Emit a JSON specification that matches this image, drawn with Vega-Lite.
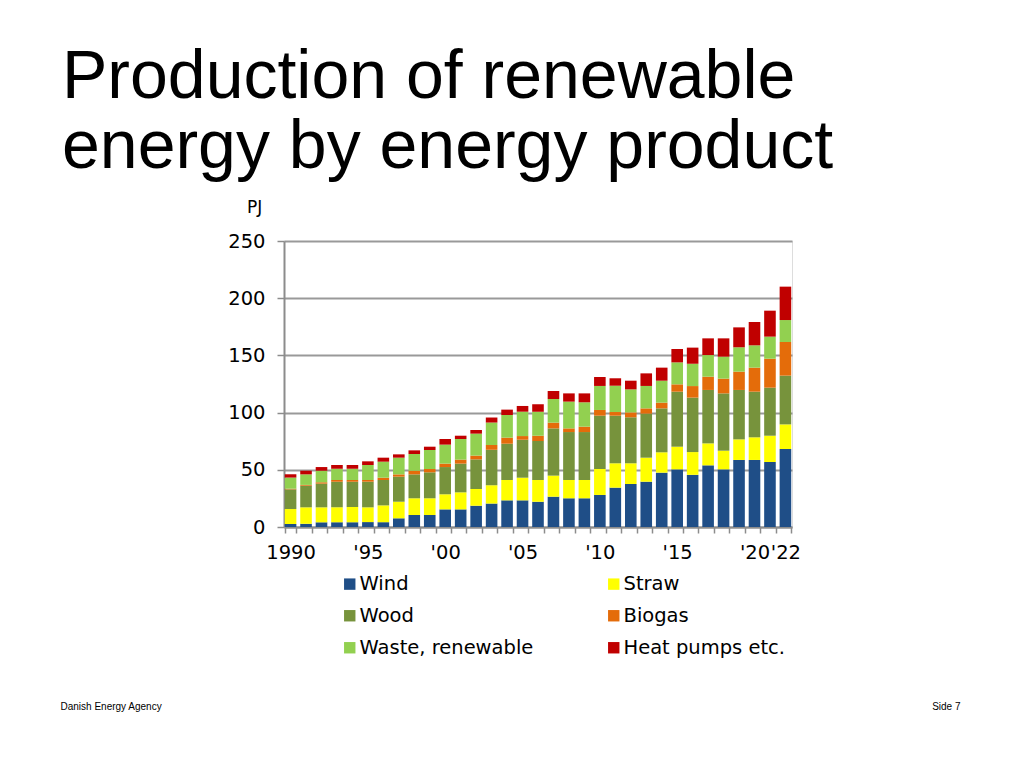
{
  "$schema": "https://vega.github.io/schema/vega-lite/v6.json",
  "width": 508,
  "height": 286,
  "autosize": "none",
  "padding": {"left": 284, "top": 241, "right": 232, "bottom": 241},
  "background": "white",
  "title": {
    "text": ["Production of renewable", "energy by energy product"],
    "anchor": "start",
    "frame": "group",
    "dx": -222,
    "offset": 16,
    "fontSize": 68,
    "font": "Liberation Sans",
    "fontWeight": "normal",
    "color": "#000000",
    "lineHeight": 70
  },
  "data": {
    "values": [
      {"year": 1990, "1_wind": 2.6, "2_straw": 13.1, "3_wood": 17.2, "4_biogas": 0.6, "5_waste": 9.7, "6_heat": 2.9},
      {"year": 1991, "1_wind": 2.8, "2_straw": 14.4, "3_wood": 18.9, "4_biogas": 0.7, "5_waste": 9.2, "6_heat": 3.2},
      {"year": 1992, "1_wind": 4.1, "2_straw": 13.1, "3_wood": 20.7, "4_biogas": 1.2, "5_waste": 10.1, "6_heat": 3.2},
      {"year": 1993, "1_wind": 4.1, "2_straw": 13.1, "3_wood": 22.4, "4_biogas": 1.5, "5_waste": 9.9, "6_heat": 3.2},
      {"year": 1994, "1_wind": 4.1, "2_straw": 13.3, "3_wood": 22.2, "4_biogas": 1.5, "5_waste": 9.9, "6_heat": 3.2},
      {"year": 1995, "1_wind": 4.3, "2_straw": 12.9, "3_wood": 22.4, "4_biogas": 1.5, "5_waste": 13.1, "6_heat": 3.2},
      {"year": 1996, "1_wind": 4.2, "2_straw": 14.7, "3_wood": 22.2, "4_biogas": 2.0, "5_waste": 14.0, "6_heat": 3.5},
      {"year": 1997, "1_wind": 7.6, "2_straw": 14.5, "3_wood": 21.9, "4_biogas": 2.0, "5_waste": 14.6, "6_heat": 2.9},
      {"year": 1998, "1_wind": 10.5, "2_straw": 14.6, "3_wood": 20.9, "4_biogas": 3.2, "5_waste": 14.6, "6_heat": 3.2},
      {"year": 1999, "1_wind": 10.5, "2_straw": 14.6, "3_wood": 22.7, "4_biogas": 2.9, "5_waste": 16.6, "6_heat": 2.9},
      {"year": 2000, "1_wind": 15.4, "2_straw": 13.2, "3_wood": 23.8, "4_biogas": 3.0, "5_waste": 16.6, "6_heat": 4.9},
      {"year": 2001, "1_wind": 15.4, "2_straw": 14.9, "3_wood": 25.1, "4_biogas": 3.5, "5_waste": 18.0, "6_heat": 2.9},
      {"year": 2002, "1_wind": 18.6, "2_straw": 14.6, "3_wood": 25.9, "4_biogas": 3.3, "5_waste": 19.2, "6_heat": 3.2},
      {"year": 2003, "1_wind": 20.5, "2_straw": 16.0, "3_wood": 31.0, "4_biogas": 4.2, "5_waste": 19.6, "6_heat": 4.4},
      {"year": 2004, "1_wind": 23.3, "2_straw": 17.8, "3_wood": 31.7, "4_biogas": 5.3, "5_waste": 19.8, "6_heat": 4.7},
      {"year": 2005, "1_wind": 23.3, "2_straw": 19.8, "3_wood": 33.2, "4_biogas": 3.2, "5_waste": 21.3, "6_heat": 5.0},
      {"year": 2006, "1_wind": 22.1, "2_straw": 19.0, "3_wood": 34.1, "4_biogas": 4.6, "5_waste": 21.0, "6_heat": 6.4},
      {"year": 2007, "1_wind": 26.5, "2_straw": 18.4, "3_wood": 41.3, "4_biogas": 5.0, "5_waste": 20.7, "6_heat": 7.0},
      {"year": 2008, "1_wind": 25.1, "2_straw": 16.0, "3_wood": 41.9, "4_biogas": 3.2, "5_waste": 23.4, "6_heat": 7.2},
      {"year": 2009, "1_wind": 25.1, "2_straw": 16.0, "3_wood": 41.9, "4_biogas": 4.7, "5_waste": 21.3, "6_heat": 7.8},
      {"year": 2010, "1_wind": 28.0, "2_straw": 22.7, "3_wood": 46.6, "4_biogas": 5.0, "5_waste": 21.0, "6_heat": 7.8},
      {"year": 2011, "1_wind": 34.4, "2_straw": 21.3, "3_wood": 41.6, "4_biogas": 3.2, "5_waste": 23.0, "6_heat": 6.5},
      {"year": 2012, "1_wind": 37.6, "2_straw": 18.1, "3_wood": 40.2, "4_biogas": 4.3, "5_waste": 20.1, "6_heat": 7.6},
      {"year": 2013, "1_wind": 39.6, "2_straw": 21.0, "3_wood": 38.5, "4_biogas": 4.6, "5_waste": 19.6, "6_heat": 11.0},
      {"year": 2014, "1_wind": 47.5, "2_straw": 17.8, "3_wood": 38.4, "4_biogas": 5.0, "5_waste": 19.2, "6_heat": 11.4},
      {"year": 2015, "1_wind": 50.4, "2_straw": 19.8, "3_wood": 48.1, "4_biogas": 6.4, "5_waste": 19.2, "6_heat": 11.7},
      {"year": 2016, "1_wind": 45.6, "2_straw": 19.9, "3_wood": 47.6, "4_biogas": 10.1, "5_waste": 19.5, "6_heat": 14.1},
      {"year": 2017, "1_wind": 53.9, "2_straw": 19.2, "3_wood": 46.7, "4_biogas": 11.6, "5_waste": 18.9, "6_heat": 14.6},
      {"year": 2018, "1_wind": 50.4, "2_straw": 16.3, "3_wood": 50.1, "4_biogas": 12.9, "5_waste": 19.2, "6_heat": 16.0},
      {"year": 2019, "1_wind": 58.6, "2_straw": 18.0, "3_wood": 43.2, "4_biogas": 16.0, "5_waste": 21.3, "6_heat": 17.4},
      {"year": 2020, "1_wind": 58.6, "2_straw": 19.8, "3_wood": 39.9, "4_biogas": 21.0, "5_waste": 19.5, "6_heat": 20.4},
      {"year": 2021, "1_wind": 56.8, "2_straw": 23.0, "3_wood": 42.0, "4_biogas": 25.3, "5_waste": 19.3, "6_heat": 22.7},
      {"year": 2022, "1_wind": 68.2, "2_straw": 21.5, "3_wood": 42.6, "4_biogas": 29.4, "5_waste": 19.2, "6_heat": 29.2}
    ]
  },
  "transform": [
    {"fold": ["1_wind", "2_straw", "3_wood", "4_biogas", "5_waste", "6_heat"], "as": ["key", "value"]}
  ],
  "layer": [
    {
      "mark": {"type": "bar"},
      "encoding": {
        "x": {
          "field": "year",
          "type": "ordinal",
          "scale": {"paddingInner": 0.25, "paddingOuter": 0.05},
          "axis": {
            "title": "Danish Energy Agency",
            "titleFont": "Liberation Sans",
            "titleFontSize": 10,
            "titleFontWeight": "normal",
            "titleColor": "#000000",
            "titleAnchor": null,
            "titleAlign": "left",
            "titleBaseline": "middle",
            "titleX": -224,
            "titleY": 179,
            "labelAngle": 0,
            "labelOverlap": false,
            "labelFont": "DejaVu Sans",
            "labelFontSize": 19.5,
            "labelColor": "#000000",
            "labelPadding": 10,
            "labelExpr": "datum.value == 1990 ? '1990' : ((datum.value % 5 == 0 || datum.value == 2022) ? \"'\" + substring(toString(datum.value), 2) : '')",
            "tickBand": "extent",
            "tickSize": 6,
            "tickColor": "#8c8c8c",
            "tickWidth": 1.5,
            "domainColor": "#8c8c8c",
            "domainWidth": 2,
            "grid": false
          }
        },
        "y": {
          "field": "value",
          "type": "quantitative",
          "stack": "zero",
          "scale": {"domain": [0, 250], "nice": false},
          "axis": {
            "title": "PJ",
            "titleAngle": 0,
            "titleFont": "DejaVu Sans",
            "titleFontSize": 17,
            "titleFontWeight": "normal",
            "titleColor": "#000000",
            "titleAnchor": null,
            "titleAlign": "center",
            "titleBaseline": "middle",
            "titleX": -30,
            "titleY": -34,
            "values": [0, 50, 100, 150, 200, 250],
            "labelFont": "DejaVu Sans",
            "labelFontSize": 19.5,
            "labelColor": "#000000",
            "labelPadding": 12,
            "tickSize": 7,
            "tickColor": "#8c8c8c",
            "tickWidth": 1.5,
            "domainColor": "#8c8c8c",
            "domainWidth": 2,
            "grid": true,
            "gridColor": "#999999",
            "gridWidth": 2
          }
        },
        "order": {"field": "key", "sort": "ascending"},
        "color": {
          "field": "key",
          "type": "nominal",
          "scale": {
            "domain": ["1_wind", "2_straw", "3_wood", "4_biogas", "5_waste", "6_heat"],
            "range": ["#1F4E87", "#FFFF00", "#77933C", "#E46C0A", "#92D050", "#C00000"]
          },
          "legend": {
            "title": null,
            "orient": "none",
            "direction": "horizontal",
            "legendX": 56,
            "legendY": 333,
            "columns": 2,
            "columnPadding": 70,
            "rowPadding": 11,
            "padding": 0,
            "symbolType": "square",
            "symbolSize": 130,
            "symbolStrokeWidth": 0,
            "labelOffset": 0,
            "labelFont": "DejaVu Sans",
            "labelFontSize": 19.5,
            "labelColor": "#000000",
            "labelLimit": 400,
            "labelExpr": "datum.label == '1_wind' ? 'Wind' : datum.label == '2_straw' ? 'Straw' : datum.label == '3_wood' ? 'Wood' : datum.label == '4_biogas' ? 'Biogas' : datum.label == '5_waste' ? 'Waste, renewable' : 'Heat pumps etc.'"
          }
        }
      }
    },
    {
      "mark": {"type": "rule", "strokeOpacity": 0},
      "encoding": {
        "x": {
          "field": "year",
          "type": "ordinal",
          "axis": {
            "orient": "top",
            "title": "Side 7",
            "titleFont": "Liberation Sans",
            "titleFontSize": 10,
            "titleFontWeight": "normal",
            "titleColor": "#000000",
            "titleAnchor": null,
            "titleAlign": "right",
            "titleBaseline": "middle",
            "titleX": 676,
            "titleY": 465,
            "labels": false,
            "ticks": false,
            "domain": false,
            "grid": false
          }
        }
      }
    }
  ],
  "resolve": {"axis": {"x": "independent"}}
}
